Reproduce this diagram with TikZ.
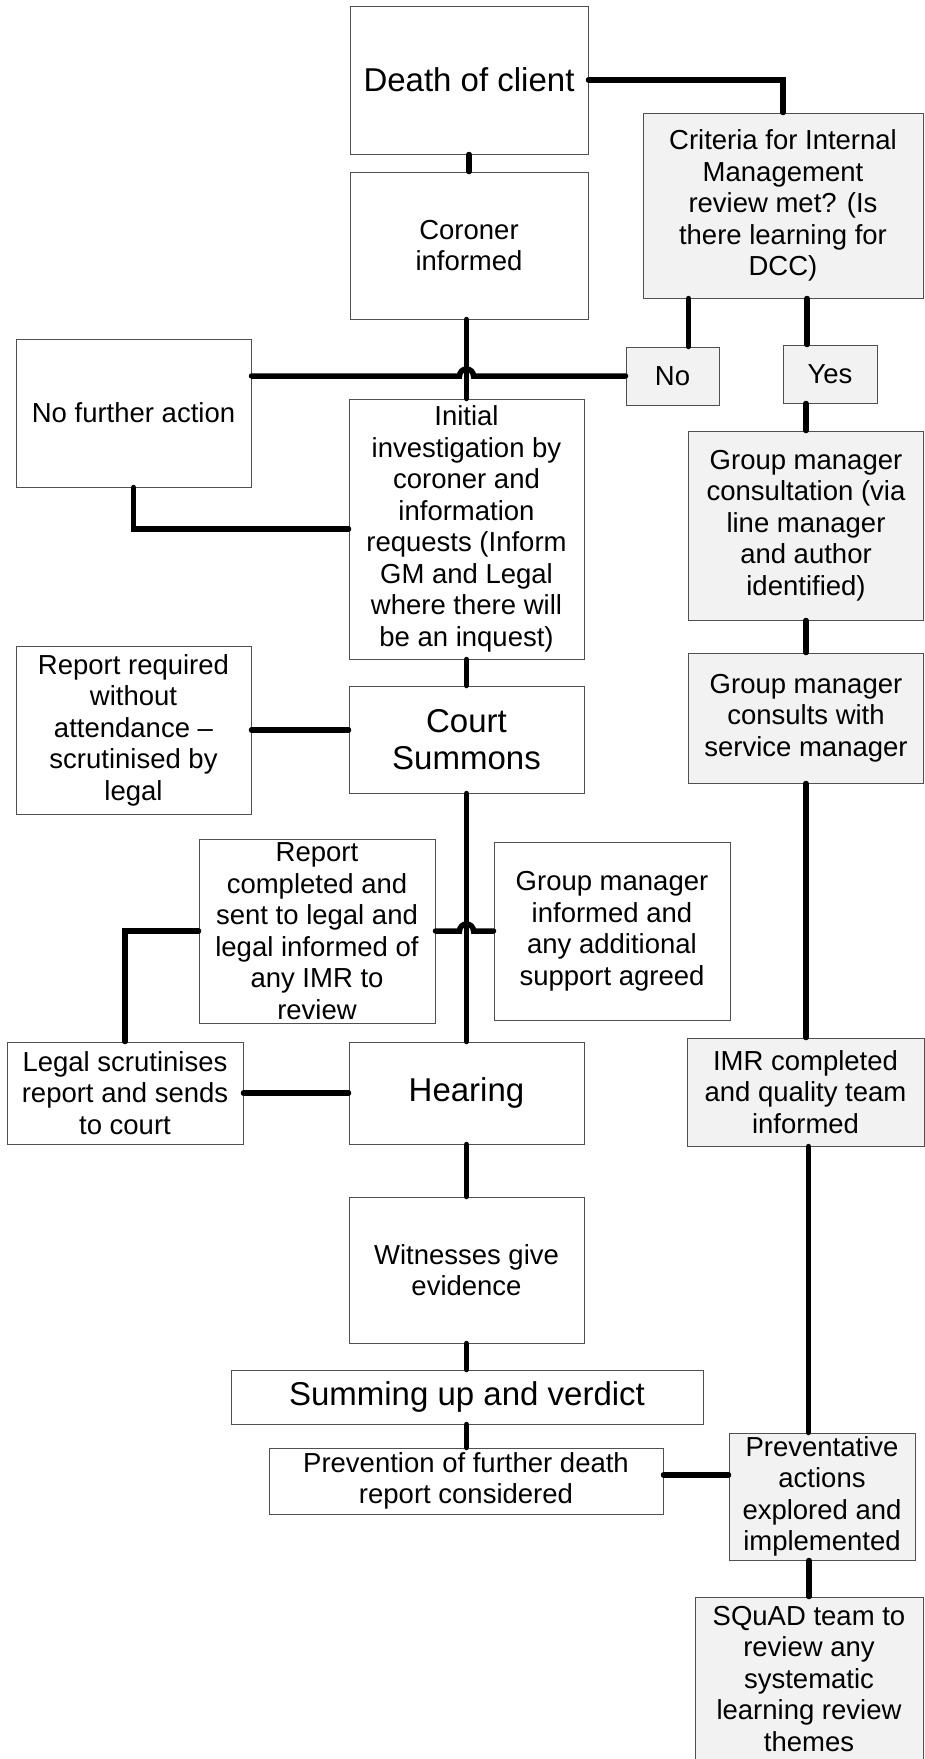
\documentclass[tikz,border=0pt]{standalone}
\usepackage{fontspec}
\setmainfont{Liberation Sans}
\usepackage{xcolor}
\usetikzlibrary{calc}
\definecolor{boxline}{HTML}{505050}
\definecolor{boxfill}{HTML}{F2F2F2}

\begin{document}
\begin{tikzpicture}[x=1pt,y=-1pt,
      box/.style={rectangle,draw=boxline,line width=1pt,fill=white,inner sep=0pt,
        align=center,font=\fontsize{27.5}{31.5}\selectfont},
      grey/.style={box,fill=boxfill},
      big/.style={font=\fontsize{33}{37}\selectfont},
      link/.style={line width=5.5pt,line cap=round}]

  \useasboundingbox (0,0) rectangle (924,1759);

  % coroner route
  \node[box,big,minimum width=238pt,minimum height=148pt] (death) at (469,80) {Death of client};
  \node[box,minimum width=238pt,minimum height=147pt] (coroner) at (469,245.5) {Coroner\\informed};
  \node[box,minimum width=235pt,minimum height=148pt] (nfa) at (133.5,413) {No further action};
  \node[box,minimum width=235pt,minimum height=260pt] (initial) at (466.5,529)
    {Initial\\investigation by\\coroner and\\information\\requests (Inform\\GM and Legal\\where there will\\be an inquest)};
  \node[box,minimum width=235pt,minimum height=168pt] (reportreq) at (133.5,730)
    {Report required\\without\\attendance –\\scrutinised by\\legal};
  \node[box,big,minimum width=235pt,minimum height=107pt] (court) at (466.5,739.5) {Court\\Summons};
  \node[box,minimum width=236pt,minimum height=184pt] (reportdone) at (317,931)
    {Report\\completed and\\sent to legal and\\legal informed of\\any IMR to\\review};
  \node[box,minimum width=236pt,minimum height=178pt] (gminformed) at (612,931)
    {Group manager\\informed and\\any additional\\support agreed};
  \node[box,minimum width=236pt,minimum height=102pt] (legal) at (125,1093)
    {Legal scrutinises\\report and sends\\to court};
  \node[box,big,minimum width=235pt,minimum height=102pt] (hearing) at (466.5,1093) {Hearing};
  \node[box,minimum width=235pt,minimum height=146pt] (witnesses) at (466.5,1270) {Witnesses give\\evidence};
  \node[box,big,minimum width=472pt,minimum height=54pt] (summing) at (467,1397) {Summing up and verdict};
  \node[box,minimum width=394pt,minimum height=66pt] (prevention) at (466,1481)
    {Prevention of further death\\report considered};

  % internal review route
  \node[grey,minimum width=280pt,minimum height=185pt] (criteria) at (783,205.5)
    {Criteria for Internal\\Management\\review met? (Is\\there learning for\\DCC)};
  \node[grey,minimum width=93pt,minimum height=58pt] (no) at (672.5,376) {No};
  \node[grey,minimum width=94pt,minimum height=58pt] (yes) at (830,374) {Yes};
  \node[grey,minimum width=235pt,minimum height=189pt] (gmconsult) at (806,525.5)
    {Group manager\\consultation (via\\line manager\\and author\\identified)};
  \node[grey,minimum width=235pt,minimum height=130pt] (gmservice) at (806,718)
    {Group manager\\consults with\\service manager};
  \node[grey,minimum width=237pt,minimum height=108pt] (imr) at (805.5,1092)
    {IMR completed\\and quality team\\informed};
  \node[grey,minimum width=186pt,minimum height=127pt] (preventative) at (822,1496.5)
    {Preventative\\actions\\explored and\\implemented};
  \node[grey,minimum width=228pt,minimum height=164pt] (squad) at (809,1679)
    {SQuAD team to\\review any\\systematic\\learning review\\themes};

  \coordinate (nojoin) at ([xshift=16pt]no.north);
  \coordinate (yesjoin) at ([xshift=-23pt]yes.north);

  % connectors
  \draw[link] (death.east) -| (criteria.north);
  \draw[link] (death.south) -- (coroner.north);
  \draw[link] (initial.north |- coroner.south) -- (initial.north);
  \draw[link] (nojoin) -- (nojoin |- criteria.south);
  \draw[link] (yesjoin) -- (yesjoin |- criteria.south);
  \draw[link] (no.west) -- ($(initial.north |- no.west)+(7,0)$)
    arc[start angle=0,end angle=180,radius=7pt] -- (nfa.east |- no.west);
  \draw[link] (nfa.south) |- (initial.west);
  \draw[link] (initial.south) -- (court.north);
  \draw[link] (reportreq.east) -- (reportreq.east -| court.west);
  \draw[link] (court.south) -- (hearing.north);
  \draw[link] (reportdone.east) -- ($(court.south |- reportdone.east)+(-7,0)$)
    arc[start angle=180,end angle=0,radius=7pt] -- (gminformed.west |- reportdone.east);
  \draw[link] (reportdone.west) -| (legal.north);
  \draw[link] (legal.east) -- (hearing.west);
  \draw[link] (hearing.south) -- (witnesses.north);
  \draw[link] (witnesses.south) -- (witnesses.south |- summing.north);
  \draw[link] (witnesses.south |- summing.south) -- (witnesses.south |- prevention.north);
  \draw[link] ([yshift=6pt]prevention.east) -- ([yshift=6pt]prevention.east -| preventative.west);
  \draw[link] (yes.south -| gmconsult.north) -- (gmconsult.north);
  \draw[link] (gmconsult.south) -- (gmservice.north);
  \draw[link] (gmservice.south) -- (gmservice.south |- imr.north);
  \draw[link] ([xshift=3pt]imr.south) -- ([xshift=3pt]imr.south |- preventative.north);
  \draw[link] (squad.north |- preventative.south) -- (squad.north);
\end{tikzpicture}
\end{document}
